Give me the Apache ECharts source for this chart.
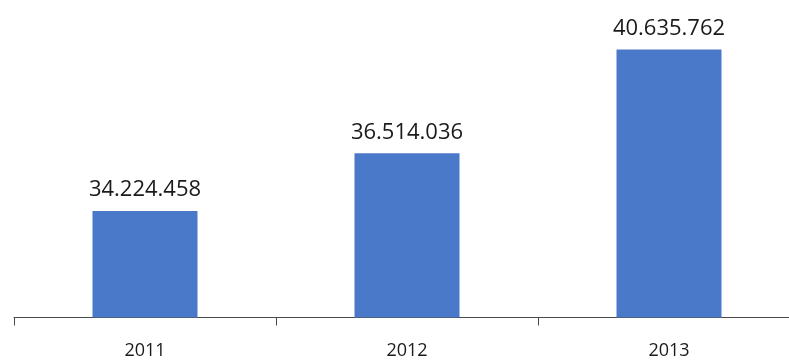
<!DOCTYPE html>
<html>
<head>
<meta charset="utf-8">
<script src="https://cdn.jsdelivr.net/npm/echarts@6/dist/echarts.min.js"></script>
<style>
  html, body { margin: 0; padding: 0; background: #fff; overflow: hidden; }
  /* canvas is wider than the page: the last category runs past the right edge */
  #chart { width: 800px; height: 361px; }
</style>
</head>
<body>
<div id="chart"></div>
<script>
// Annual totals per year
const years = ['2011', '2012', '2013'];
const totals = [34224458, 36514036, 40635762];

// Dotted-thousands formatting, e.g. 34.224.458
function fmt(v) {
  return String(v).replace(/\B(?=(\d{3})+(?!\d))/g, '.');
}

const chart = echarts.init(document.getElementById('chart'));
chart.setOption({
  animation: false,
  backgroundColor: '#ffffff',
  grid: { left: 14, right: 0, top: 15, bottom: 43.5, containLabel: false },
  xAxis: {
    type: 'category',
    data: years,
    axisLine: { show: true, lineStyle: { color: '#4a4a4a', width: 1 } },
    axisTick: { show: true, length: 8, lineStyle: { color: '#4a4a4a' } },
    axisLabel: {
      margin: 24,
      fontFamily: 'Open Sans',
      fontSize: 18,
      color: '#1a1a1a'
    }
  },
  yAxis: {
    type: 'value',
    min: 30000000,
    max: 42000000,
    show: false,
    splitLine: { show: false }
  },
  series: [{
    type: 'bar',
    data: totals,
    barWidth: 105,
    itemStyle: { color: '#4b79c9' },
    label: {
      show: true,
      position: 'top',
      distance: 10,
      fontFamily: 'Open Sans',
      fontSize: 22,
      color: '#1a1a1a',
      formatter: p => fmt(p.value)
    }
  }]
});
</script>
</body>
</html>
